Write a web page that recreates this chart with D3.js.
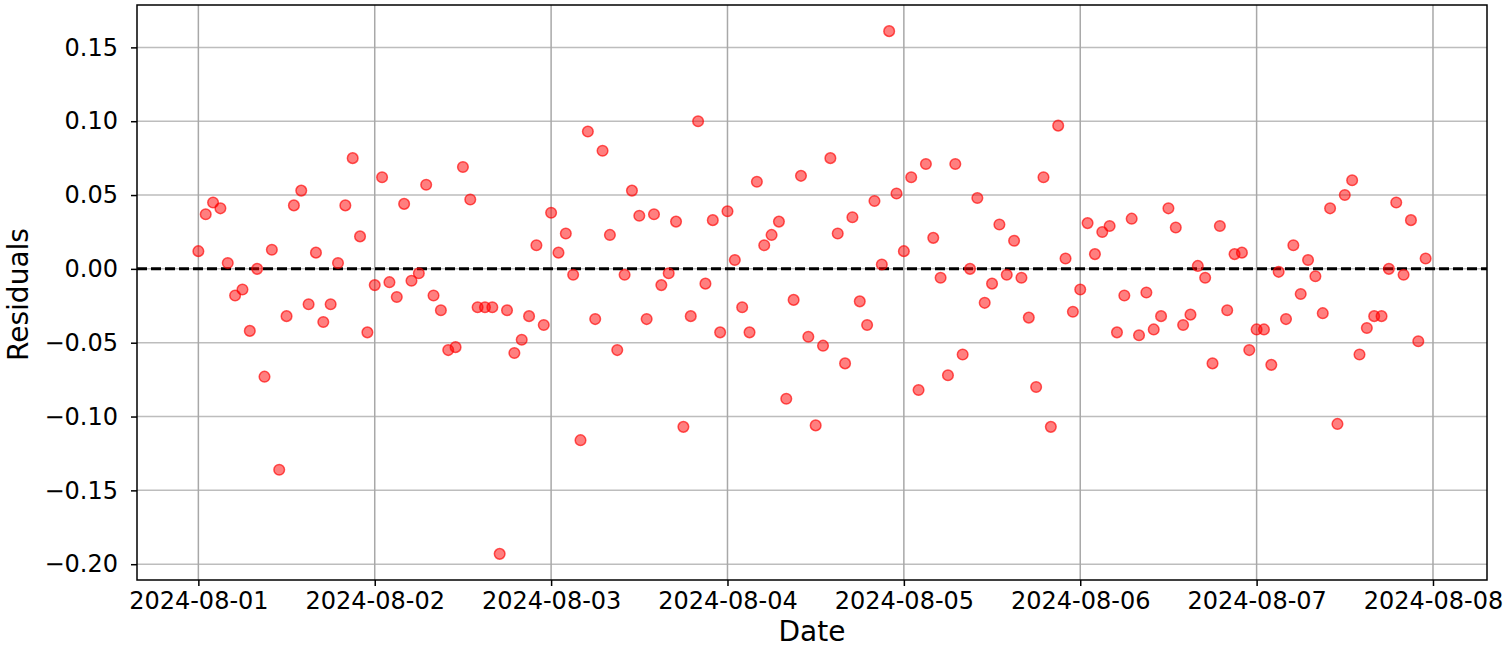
<!DOCTYPE html>
<html>
<head>
<meta charset="utf-8">
<script src="https://cdn.jsdelivr.net/npm/d3@7"></script>
<style>
  body { margin: 0; background: #fff; }
  text { font-family: "DejaVu Sans", sans-serif; fill: #000; }
</style>
</head>
<body>
<div id="chart-container"></div>
<script>
// hourly residuals, one array per day
const startDate = "2024-08-01T00:00:00Z";
const residualsAug01 = [0.012, 0.037, 0.045, 0.041, 0.004, -0.018, -0.014, -0.042, 0.000, -0.073, 0.013, -0.136,
  -0.032, 0.043, 0.053, -0.024, 0.011, -0.036, -0.024, 0.004, 0.043, 0.075, 0.022, -0.043];
const residualsAug02 = [-0.011, 0.062, -0.009, -0.019, 0.044, -0.008, -0.003, 0.057, -0.018, -0.028, -0.055, -0.053,
  0.069, 0.047, -0.026, -0.026, -0.026, -0.193, -0.028, -0.057, -0.048, -0.032, 0.016, -0.038];
const residualsAug03 = [0.038, 0.011, 0.024, -0.004, -0.116, 0.093, -0.034, 0.080, 0.023, -0.055, -0.004, 0.053,
  0.036, -0.034, 0.037, -0.011, -0.003, 0.032, -0.107, -0.032, 0.100, -0.010, 0.033, -0.043];
const residualsAug04 = [0.039, 0.006, -0.026, -0.043, 0.059, 0.016, 0.023, 0.032, -0.088, -0.021, 0.063, -0.046,
  -0.106, -0.052, 0.075, 0.024, -0.064, 0.035, -0.022, -0.038, 0.046, 0.003, 0.161, 0.051];
const residualsAug05 = [0.012, 0.062, -0.082, 0.071, 0.021, -0.006, -0.072, 0.071, -0.058, 0.000, 0.048, -0.023,
  -0.010, 0.030, -0.004, 0.019, -0.006, -0.033, -0.080, 0.062, -0.107, 0.097, 0.007, -0.029];
const residualsAug06 = [-0.014, 0.031, 0.010, 0.025, 0.029, -0.043, -0.018, 0.034, -0.045, -0.016, -0.041, -0.032,
  0.041, 0.028, -0.038, -0.031, 0.002, -0.006, -0.064, 0.029, -0.028, 0.010, 0.011, -0.055];
const residualsAug07 = [-0.041, -0.041, -0.065, -0.002, -0.034, 0.016, -0.017, 0.006, -0.005, -0.030, 0.041, -0.105,
  0.050, 0.060, -0.058, -0.040, -0.032, -0.032, 0.000, 0.045, -0.004, 0.033, -0.049, 0.007];
const yTicks = [-0.20, -0.15, -0.10, -0.05, 0.00, 0.05, 0.10, 0.15];

const residuals = [].concat(residualsAug01, residualsAug02, residualsAug03, residualsAug04,
  residualsAug05, residualsAug06, residualsAug07);
const t0 = new Date(startDate);
const data = residuals.map((r, i) => ({ date: d3.utcHour.offset(t0, i), value: r }));

const width = 1505;
const height = 649;
const margin = { top: 5, right: 18, bottom: 69, left: 137 };

function drawChart() {
  const svg = d3
    .select("#chart-container")
    .append("svg")
    .attr("width", width)
    .attr("height", height);

  // matplotlib style 5% padding around the data
  const xExt = d3.extent(data, (d) => d.date);
  const xPad = (xExt[1] - xExt[0]) * 0.05;
  const x = d3
    .scaleUtc()
    .domain([new Date(+xExt[0] - xPad), new Date(+xExt[1] + xPad)])
    .range([margin.left, width - margin.right]);

  const yExt = d3.extent(data, (d) => d.value);
  const yPad = (yExt[1] - yExt[0]) * 0.05;
  const y = d3
    .scaleLinear()
    .domain([yExt[0] - yPad, yExt[1] + yPad])
    .range([height - margin.bottom, margin.top]);

  const xTicks = d3.utcDay.range(d3.utcDay.floor(xExt[0]), d3.utcDay.offset(d3.utcDay.floor(xExt[1]), 2));

  // grid
  svg.append("g")
    .selectAll("line")
    .data(yTicks)
    .enter()
    .append("line")
    .attr("x1", margin.left)
    .attr("x2", width - margin.right)
    .attr("y1", (d) => y(d))
    .attr("y2", (d) => y(d))
    .style("stroke", "#bdbdbd")
    .style("stroke-width", 1.5);

  svg.append("g")
    .selectAll("line")
    .data(xTicks)
    .enter()
    .append("line")
    .attr("x1", (d) => x(d))
    .attr("x2", (d) => x(d))
    .attr("y1", margin.top)
    .attr("y2", height - margin.bottom)
    .style("stroke", "#a8a8a8")
    .style("stroke-width", 1.5);

  // zero reference line
  svg.append("line")
    .attr("x1", margin.left)
    .attr("x2", width - margin.right)
    .attr("y1", y(0))
    .attr("y2", y(0))
    .style("stroke", "#000")
    .style("stroke-width", 3)
    .style("stroke-dasharray", "10,4");

  // points
  svg.append("g")
    .selectAll("circle")
    .data(data)
    .enter()
    .append("circle")
    .attr("cx", (d) => x(d.date))
    .attr("cy", (d) => y(d.value))
    .attr("r", 5.3)
    .style("fill", "#ff0000")
    .style("fill-opacity", 0.5)
    .style("stroke", "#ff0000")
    .style("stroke-opacity", 0.65)
    .style("stroke-width", 1.5);

  // axes
  const xAxis = svg.append("g")
    .attr("transform", `translate(0,${height - margin.bottom})`)
    .call(d3.axisBottom(x).tickValues(xTicks).tickFormat(d3.utcFormat("%Y-%m-%d"))
      .tickSizeInner(6).tickSizeOuter(0).tickPadding(6));
  xAxis.select(".domain").remove();
  xAxis.selectAll("text").style("font-size", "24px");
  xAxis.selectAll("line").style("stroke-width", 1.5);

  const yAxis = svg.append("g")
    .attr("transform", `translate(${margin.left},0)`)
    .call(d3.axisLeft(y).tickValues(yTicks).tickFormat(d3.format(".2f"))
      .tickSizeInner(6).tickSizeOuter(0).tickPadding(13));
  yAxis.select(".domain").remove();
  yAxis.selectAll("text").style("font-size", "24px");
  yAxis.selectAll("line").style("stroke-width", 1.5);

  // frame
  svg.append("rect")
    .attr("x", margin.left)
    .attr("y", margin.top)
    .attr("width", width - margin.left - margin.right)
    .attr("height", height - margin.top - margin.bottom)
    .style("fill", "none")
    .style("stroke", "#000")
    .style("stroke-width", 1.5);

  // labels
  svg.append("text")
    .attr("x", (margin.left + width - margin.right) / 2)
    .attr("y", height - 8)
    .attr("text-anchor", "middle")
    .style("font-size", "28px")
    .text("Date");

  svg.append("text")
    .attr("transform", `translate(28,${(margin.top + height - margin.bottom) / 2 + 2}) rotate(-90)`)
    .attr("text-anchor", "middle")
    .style("font-size", "28px")
    .text("Residuals");
}

drawChart();
</script>
</body>
</html>
